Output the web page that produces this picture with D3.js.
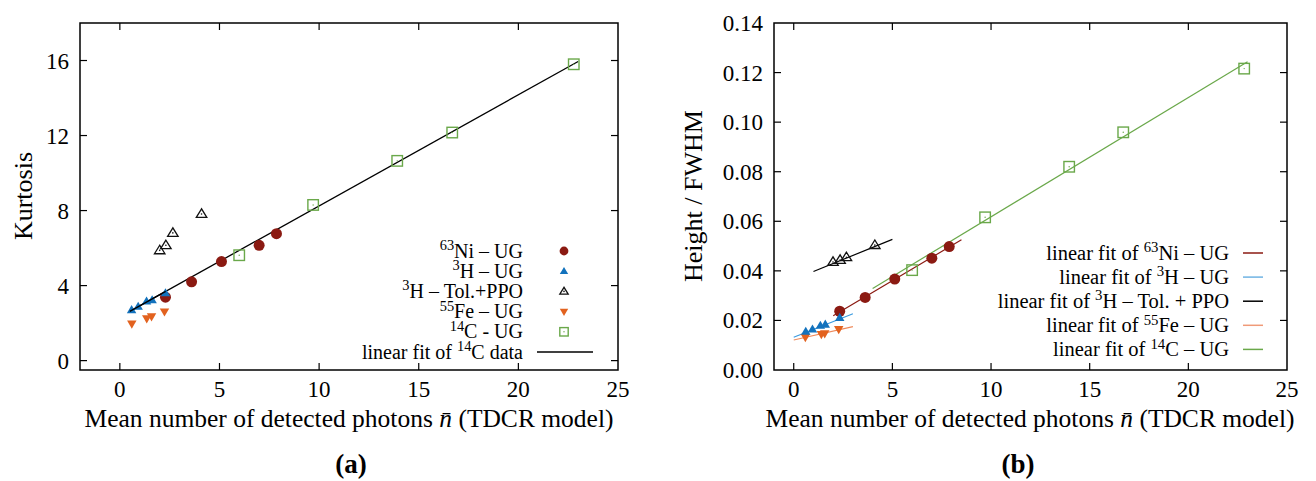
<!DOCTYPE html>
<html><head><meta charset="utf-8">
<script src="https://cdn.jsdelivr.net/npm/d3@7"></script>
</head><body style="margin:0;background:#fff">
<svg id="c" width="1316" height="481"></svg>
<script>
// ---------- data: panel (a) Kurtosis ----------
const niX_a  = [2.29, 3.60, 5.10, 6.99, 7.86];
const niY_a  = [3.38, 4.20, 5.28, 6.15, 6.77];
const h3X_a  = [0.59, 0.92, 1.34, 1.62, 2.29];
const h3Y_a  = [2.70, 2.88, 3.16, 3.23, 3.60];
const tolX_a = [2.00, 2.31, 2.66, 4.10];
const tolY_a = [5.88, 6.15, 6.81, 7.82];
const feX_a  = [0.60, 1.35, 1.59, 2.24];
const feY_a  = [1.96, 2.24, 2.35, 2.61];
const cX_a   = [5.99, 9.70, 13.92, 16.68, 22.78];
const cY_a   = [5.62, 8.30, 10.65, 12.16, 15.80];
const fitC_a = {slope: 0.592, intercept: 2.33, x0: 0.5, x1: 23.0};

// ---------- data: panel (b) Height / FWHM ----------
const niX_b  = [2.33, 3.62, 5.12, 7.00, 7.88];
const niY_b  = [0.0237, 0.0293, 0.0367, 0.0451, 0.0498];
const h3X_b  = [0.61, 0.95, 1.35, 1.60, 2.33];
const h3Y_b  = [0.0155, 0.0164, 0.0179, 0.0184, 0.0211];
const tolX_b = [1.99, 2.35, 2.67, 4.11];
const tolY_b = [0.0436, 0.0444, 0.0455, 0.0504];
const feX_b  = [0.59, 1.40, 1.57, 2.28];
const feY_b  = [0.0132, 0.0144, 0.0147, 0.0164];
const cX_b   = [6.00, 9.70, 13.96, 16.70, 22.83];
const cY_b   = [0.0403, 0.0616, 0.0820, 0.0959, 0.1216];
// linear fits: [slope, intercept, xStart, xEnd]
const fitNi_b  = [0.00471, 0.0125, 2.0, 8.5];
const fitH3_b  = [0.00316, 0.0132, 0.0, 3.0];
const fitTol_b = [0.00324, 0.0365, 1.0, 5.0];
const fitFe_b  = [0.00180, 0.0121, 0.0, 3.0];
const fitC_b   = [0.004816, 0.01364, 4.0, 23.0];

const xTicks  = [0, 5, 10, 15, 20, 25];
const yTicksA = [0, 4, 8, 12, 16];
const yTicksB = [0, 0.02, 0.04, 0.06, 0.08, 0.10, 0.12, 0.14];

const C = {ni:"#8b1a12", h3:"#1272bd", tol:"#111", fe:"#e2621f", c:"#6aa84a",
           h3line:"#3b9be0", feline:"#ee8a5c"};

const svg = d3.select("#c");
const TICK = 7;

function txt(g, x, y, size) {
  return g.append("text").attr("x",x).attr("y",y).attr("font-size",size)
    .attr("font-family","Liberation Serif").style("font-family",'"Liberation Serif"');
}

function frame(g, x, y, yTicks, yFmt) {
  const [x0,x1] = x.range(), [y0,y1] = y.range();
  g.append("rect").attr("x",x0).attr("y",y1).attr("width",x1-x0).attr("height",y0-y1)
    .attr("fill","none").attr("stroke","#000").attr("stroke-width",1.5);
  xTicks.forEach(t=>{
    const px = x(t);
    if (px>x0+1 && px<x1-1){
      g.append("line").attr("x1",px).attr("x2",px).attr("y1",y0).attr("y2",y0-TICK).attr("stroke","#000").attr("stroke-width",1.2);
      g.append("line").attr("x1",px).attr("x2",px).attr("y1",y1).attr("y2",y1+TICK).attr("stroke","#000").attr("stroke-width",1.2);
    }
    txt(g, px, y0+27, 23).attr("text-anchor","middle").text(t);
  });
  yTicks.forEach(t=>{
    const py = y(t);
    if (py>y1+1 && py<y0-1){
      g.append("line").attr("x1",x0).attr("x2",x0+TICK).attr("y1",py).attr("y2",py).attr("stroke","#000").attr("stroke-width",1.2);
      g.append("line").attr("x1",x1).attr("x2",x1-TICK).attr("y1",py).attr("y2",py).attr("stroke","#000").attr("stroke-width",1.2);
    }
    txt(g, x0-11, py+8, 23).attr("text-anchor","end").text(yFmt(t));
  });
}

function xLabel(g, cx, y) {
  const t = txt(g, cx, y, 25.5).attr("text-anchor","middle");
  t.append("tspan").text("Mean number of detected photons ");
  t.append("tspan").attr("font-style","italic").text("n\u0304");
  t.append("tspan").text(" (TDCR model)");
}

function sym(g, type, cx, cy, color, s) {
  if (type==="circle") {
    g.append("circle").attr("cx",cx).attr("cy",cy).attr("r",s*0.55).attr("fill",color);
  } else if (type==="up" || type==="down") {
    const h = s*0.9, w = s*1.05, d = type==="up"?1:-1;
    const pts = [[cx, cy-d*h*0.6],[cx-w/2, cy+d*h*0.4],[cx+w/2, cy+d*h*0.4]];
    g.append("path").attr("d","M"+pts.map(p=>p.join(",")).join("L")+"Z").attr("fill",color);
  } else if (type==="openup") {
    const h = s*0.85, w = s*1.05;
    const pts = [[cx, cy-h*0.6],[cx-w/2, cy+h*0.4],[cx+w/2, cy+h*0.4]];
    g.append("path").attr("d","M"+pts.map(p=>p.join(",")).join("L")+"Z").attr("fill","none").attr("stroke",color).attr("stroke-width",1.3);
    g.append("circle").attr("cx",cx).attr("cy",cy).attr("r",0.8).attr("fill",color);
  } else if (type==="square") {
    const a = s*1.05;
    g.append("rect").attr("x",cx-a/2).attr("y",cy-a/2).attr("width",a).attr("height",a).attr("fill","none").attr("stroke",color).attr("stroke-width",1.4);
    g.append("circle").attr("cx",cx).attr("cy",cy).attr("r",0.7).attr("fill",color);
  }
}

function points(g, xs, ys, x, y, type, color, s) {
  xs.forEach((v,i)=>sym(g, type, x(v), y(ys[i]), color, s));
}

function fitLine(g, x, y, slope, intercept, xa, xb, color, w) {
  g.append("line").attr("x1",x(xa)).attr("y1",y(slope*xa+intercept))
    .attr("x2",x(xb)).attr("y2",y(slope*xb+intercept)).attr("stroke",color).attr("stroke-width",w||1.3);
}

function supText(g, x, y, parts, size) {
  const t = txt(g, x, y, size).attr("text-anchor","end");
  let sup = false;
  parts.forEach(([s,isSup])=>{
    const ts = t.append("tspan").text(s);
    if (isSup && !sup) { ts.attr("dy",-size*0.38).attr("font-size",size*0.72); sup=true; }
    else if (isSup) { ts.attr("font-size",size*0.72); }
    else if (!isSup && sup) { ts.attr("dy",size*0.38); sup=false; }
  });
  return t;
}

// ================= panel (a) =================
const ga = svg.append("g");
const xa = d3.scaleLinear().domain([-2,25]).range([80,618]);
const ya = d3.scaleLinear().domain([-0.5,18]).range([370,23]);
frame(ga, xa, ya, yTicksA, d=>d);
fitLine(ga, xa, ya, fitC_a.slope, fitC_a.intercept, fitC_a.x0, fitC_a.x1, "#000", 1.3);
points(ga, niX_a, niY_a, xa, ya, "circle", C.ni, 10);
points(ga, feX_a, feY_a, xa, ya, "down", C.fe, 9);
points(ga, h3X_a, h3Y_a, xa, ya, "up", C.h3, 9);
points(ga, tolX_a, tolY_a, xa, ya, "openup", C.tol, 10);
points(ga, cX_a, cY_a, xa, ya, "square", C.c, 10);
fitLine(ga, xa, ya, fitC_a.slope, fitC_a.intercept, fitC_a.x0, 2.3, "#000", 1.3);

const legA = [
  [[["63",true],["Ni \u2013 UG",false]], "circle", C.ni],
  [[["3",true],["H \u2013 UG",false]], "up", C.h3],
  [[["3",true],["H \u2013 Tol.+PPO",false]], "openup", C.tol],
  [[["55",true],["Fe \u2013 UG",false]], "down", C.fe],
  [[["14",true],["C - UG",false]], "square", C.c],
  [[["linear fit of ",false],["14",true],["C data",false]], "line", "#000"]
];
legA.forEach((r,i)=>{
  const cy = 251 + i*20.2;
  supText(ga, 523, cy+6.5, r[0], 20);
  if (r[1]==="line") ga.append("line").attr("x1",537).attr("x2",593).attr("y1",cy).attr("y2",cy).attr("stroke","#000").attr("stroke-width",1.3);
  else sym(ga, r[1], 564, cy, r[2], 8);
});
txt(ga, 32, 196, 26).attr("transform","rotate(-90,32,196)").attr("text-anchor","middle").text("Kurtosis");
xLabel(ga, 349, 427);
txt(ga, 351, 473, 27).attr("text-anchor","middle").attr("font-weight","bold").text("(a)");

// ================= panel (b) =================
const gb = svg.append("g");
const xb = d3.scaleLinear().domain([-1,25]).range([774,1287]);
const yb = d3.scaleLinear().domain([0,0.14]).range([370,23]);
frame(gb, xb, yb, yTicksB, d3.format(".2f"));
fitLine(gb, xb, yb, ...fitC_b, C.c, 1.2);
fitLine(gb, xb, yb, ...fitNi_b, C.ni, 1.2);
fitLine(gb, xb, yb, ...fitH3_b, C.h3line, 1.2);
fitLine(gb, xb, yb, ...fitFe_b, C.feline, 1.2);
fitLine(gb, xb, yb, ...fitTol_b, "#000", 1.2);
points(gb, niX_b, niY_b, xb, yb, "circle", C.ni, 10);
points(gb, feX_b, feY_b, xb, yb, "down", C.fe, 9);
points(gb, h3X_b, h3Y_b, xb, yb, "up", C.h3, 9);
points(gb, tolX_b, tolY_b, xb, yb, "openup", C.tol, 10);
points(gb, cX_b, cY_b, xb, yb, "square", C.c, 10);

const legB = [
  [[["linear fit of ",false],["63",true],["Ni \u2013 UG",false]], C.ni],
  [[["linear fit of ",false],["3",true],["H \u2013 UG",false]], "#6fb3e3"],
  [[["linear fit of ",false],["3",true],["H \u2013 Tol. + PPO",false]], "#000"],
  [[["linear fit of ",false],["55",true],["Fe \u2013 UG",false]], "#f09a78"],
  [[["linear fit of ",false],["14",true],["C \u2013 UG",false]], C.c]
];
legB.forEach((r,i)=>{
  const cy = 253 + i*24.1;
  supText(gb, 1229, cy+7, r[0], 20.5);
  gb.append("line").attr("x1",1243).attr("x2",1263).attr("y1",cy).attr("y2",cy).attr("stroke",r[1]).attr("stroke-width",1.5);
});
txt(gb, 702, 196, 26).attr("transform","rotate(-90,702,196)").attr("text-anchor","middle").text("Height / FWHM");
xLabel(gb, 1030, 427);
txt(gb, 1018, 473, 27).attr("text-anchor","middle").attr("font-weight","bold").text("(b)");
</script>
</body></html>
